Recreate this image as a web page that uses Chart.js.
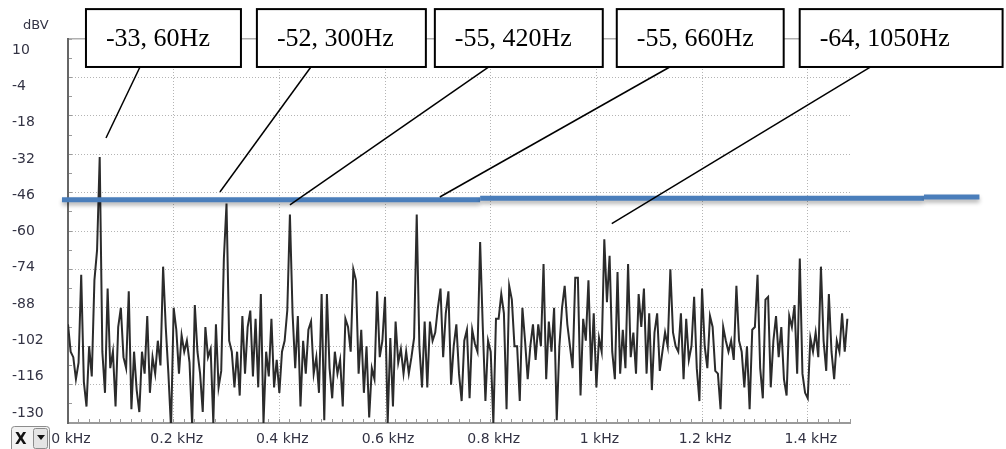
<!DOCTYPE html>
<html>
<head>
<meta charset="utf-8">
<script src="https://cdn.jsdelivr.net/npm/chart.js@4.4.1/dist/chart.umd.min.js"></script>
<style>
  html, body { margin: 0; padding: 0; background: #fff; }
  #wrap { width: 1006px; height: 449px; }
</style>
</head>
<body>
<div id="wrap"><canvas id="spectrum" width="1006" height="449"></canvas></div>
<script>
// FFT bins, 5 Hz apart (x axis is in kHz)
const freqStepKHz = 0.005;
const spectrumDbv = [
  -94, -104, -106, -114, -108, -76, -115, -124, -102, -113,
  -78, -67, -33, -104, -119, -81, -110, -104, -124, -95,
  -88, -106, -110, -82, -125, -104, -118, -126, -104, -112,
  -91, -119, -106, -112, -100, -109, -73, -95, -112, -132,
  -88, -96, -112, -98, -104, -100, -108, -131, -87, -104,
  -112, -126, -95, -106, -103, -130, -94, -117, -111, -70,
  -50, -100, -104, -117, -104, -120, -91, -112, -95, -89,
  -113, -92, -117, -83, -130, -104, -113, -92, -117, -107,
  -119, -104, -100, -89, -54, -90, -110, -91, -124, -100,
  -112, -96, -93, -112, -106, -119, -83, -129, -83,
  -110, -121, -104, -112, -107, -124, -92, -95, -104, -74,
  -78, -112, -96, -119, -102, -128, -110, -114, -82, -106,
  -100, -84, -130, -99, -124, -93, -108, -103, -112, -104,
  -112, -106, -99, -54, -102, -117, -93, -117, -93, -100,
  -97, -88, -81, -106, -90, -82, -116, -102, -94,
  -112, -122, -100, -96, -121, -96, -101, -104, -64, -95,
  -122, -100, -104, -130, -92, -92, -83, -90, -125, -80,
  -85, -102, -102, -122, -88, -100, -114, -102, -94, -107,
  -94, -102, -72, -114, -93, -104, -88, -129, -102, -88,
  -80, -94, -102, -110, -77, -77, -120, -92, -100,
  -78, -111, -90, -117, -99, -104, -63, -86, -69, -104,
  -114, -75, -112, -96, -110, -72, -106, -97, -112, -83,
  -95, -81, -112, -90, -118, -97, -90, -111, -104, -97,
  -102, -74, -97, -102, -104, -90, -114, -92, -107, -102,
  -84, -110, -122, -81, -102, -110, -91, -95, -111,
  -112, -125, -95, -100, -104, -100, -107, -80, -100, -104,
  -117, -102, -125, -96, -95, -76, -110, -121, -85, -84,
  -117, -100, -91, -106, -95, -114, -120, -91, -95, -87,
  -112, -70, -112, -119, -121, -99, -104, -97, -106, -73,
  -100, -111, -83, -104, -114, -100, -104, -90, -104, -92
];

const yTickValues = [10, -4, -18, -32, -46, -60, -74, -88, -102, -116, -130];
const xTickLabels = ['0 kHz', '0.2 kHz', '0.4 kHz', '0.6 kHz', '0.8 kHz', '1 kHz', '1.2 kHz', '1.4 kHz'];

// callout boxes (kHz / dBV)
const calloutText = ['-33, 60Hz', '-52, 300Hz', '-55, 420Hz', '-55, 660Hz', '-64, 1050Hz'];
const calloutLeft = [0.034, 0.3575, 0.6943, 1.0386, 1.3848];
const calloutRight = [0.3273, 0.6773, 1.0121, 1.3545, 1.7688];
const calloutTop = 20.9;
const calloutBottom = -0.2;
const leaderStartX = [0.1362, 0.4597, 0.7964, 1.1389, 1.5191];
const leaderEndX = [0.0719, 0.2875, 0.42, 0.7037, 1.0291];
const leaderEndY = [-26.1, -45.8, -50.5, -47.6, -57.3];

// hand drawn blue level line: [from kHz, to kHz, dBV]
const levelLine = [[-0.0114, 0.78, -48.6], [0.78, 1.62, -48.1], [1.62, 1.725, -47.6]];

const isMultiple = (v, step) => Math.abs(v / step - Math.round(v / step)) < 1e-6;

const overlay = {
  id: 'overlay',
  afterDraw(chart) {
    const { ctx } = chart;
    const x = chart.scales.x, y = chart.scales.y;

    // blue line
    ctx.save();
    ctx.strokeStyle = '#4a7ebb';
    ctx.lineWidth = 5;
    ctx.shadowColor = 'rgba(0,0,0,0.3)';
    ctx.shadowBlur = 4;
    ctx.shadowOffsetY = 3;
    levelLine.forEach(s => {
      ctx.beginPath();
      ctx.moveTo(x.getPixelForValue(s[0]), y.getPixelForValue(s[2]));
      ctx.lineTo(x.getPixelForValue(s[1]), y.getPixelForValue(s[2]));
      ctx.stroke();
    });
    ctx.restore();

    // leaders
    ctx.save();
    ctx.strokeStyle = '#000';
    ctx.lineWidth = 1.5;
    leaderStartX.forEach((sx, i) => {
      ctx.beginPath();
      ctx.moveTo(x.getPixelForValue(sx), y.getPixelForValue(calloutBottom));
      ctx.lineTo(x.getPixelForValue(leaderEndX[i]), y.getPixelForValue(leaderEndY[i]));
      ctx.stroke();
    });

    // boxes
    const top = y.getPixelForValue(calloutTop), bot = y.getPixelForValue(calloutBottom);
    ctx.font = '26px "Liberation Serif", "Times New Roman", serif';
    ctx.textBaseline = 'middle';
    ctx.textAlign = 'left';
    ctx.lineWidth = 2;
    calloutText.forEach((t, i) => {
      const l = x.getPixelForValue(calloutLeft[i]), r = x.getPixelForValue(calloutRight[i]);
      ctx.fillStyle = '#fff';
      ctx.fillRect(l, top, r - l, bot - top);
      ctx.strokeRect(l, top, r - l, bot - top);
      ctx.fillStyle = '#000';
      ctx.fillText(t, l + 20, (top + bot) / 2 + 1);
    });
    ctx.restore();

    // unit label and the little X selector
    ctx.save();
    ctx.fillStyle = '#333344';
    ctx.font = '13px "DejaVu Sans"';
    ctx.textBaseline = 'middle';
    ctx.fillText('dBV', 23, 26);
    ctx.strokeStyle = '#8c8c8c';
    ctx.lineWidth = 1;
    ctx.fillStyle = '#f2f2f2';
    ctx.beginPath();
    ctx.roundRect(11.5, 426.5, 38, 26, 3);
    ctx.fill();
    ctx.stroke();
    ctx.beginPath();
    ctx.roundRect(33.5, 428.5, 14, 20, 2);
    ctx.fillStyle = '#e4e4e4';
    ctx.fill();
    ctx.stroke();
    ctx.fillStyle = '#111';
    ctx.font = 'bold 15px "DejaVu Sans"';
    ctx.fillText('X', 15, 440);
    ctx.beginPath();
    ctx.moveTo(37, 435);
    ctx.lineTo(45, 435);
    ctx.lineTo(41, 440);
    ctx.closePath();
    ctx.fill();
    ctx.restore();
  }
};

Chart.defaults.font.family = '"DejaVu Sans", sans-serif';

new Chart(document.getElementById('spectrum'), {
  type: 'line',
  data: {
    datasets: [{
      data: spectrumDbv.map((v, i) => ({ x: i * freqStepKHz, y: v })),
      borderColor: '#2b2b2b',
      borderWidth: 2,
      pointRadius: 0,
      tension: 0
    }]
  },
  options: {
    responsive: false,
    devicePixelRatio: 1,
    animation: false,
    layout: { padding: { left: 12, top: 39, right: 156, bottom: 0 } },
    plugins: { legend: { display: false }, tooltip: { enabled: false } },
    scales: {
      x: {
        type: 'linear',
        position: 'bottom',
        min: 0,
        max: 1.48,
        afterFit: s => { s.height = 26; },
        ticks: {
          stepSize: 0.02,
          maxTicksLimit: 1000,
          autoSkip: false,
          maxRotation: 0,
          padding: 12,
          labelOffset: 3,
          color: '#333344',
          font: { size: 14 },
          callback: v => isMultiple(v, 0.2) ? xTickLabels[Math.round(v / 0.2)] : ''
        },
        grid: {
          color: c => (isMultiple(c.tick.value, 0.2) && c.tick.value > 0.01) ? '#b4b4b4' : 'rgba(0,0,0,0)',
          tickColor: '#9a9a9a',
          tickLength: -4
        },
        border: { color: '#9a9a9a', width: 2, dash: [1, 2] }
      },
      top: {
        type: 'linear',
        position: 'top',
        min: 0,
        max: 1.48,
        afterFit: s => { s.height = 0; },
        ticks: { display: false },
        grid: { display: false },
        border: { color: '#b0b0b0', width: 1.5 }
      },
      y: {
        type: 'linear',
        position: 'left',
        min: -130,
        max: 10,
        weight: 0,
        afterFit: s => { s.width = 0; },
        ticks: { display: false, stepSize: 7 },
        grid: {
          color: c => (isMultiple(c.tick.value + 130, 14) && c.tick.value > -129 && c.tick.value < 9) ? '#b4b4b4' : 'rgba(0,0,0,0)',
          tickColor: '#9a9a9a',
          tickLength: -4
        },
        border: { color: '#666666', width: 2, dash: [1, 2] }
      },
      yLabels: {
        type: 'linear',
        position: 'left',
        weight: 10,
        min: -133.85,
        max: 14.24,
        afterFit: s => { s.width = 56; },
        afterBuildTicks: s => { s.ticks = yTickValues.map(v => ({ value: v })); },
        ticks: {
          crossAlign: 'far',
          color: '#333344',
          font: { size: 14 },
          callback: v => String(v)
        },
        grid: { display: false },
        border: { display: false }
      }
    }
  },
  plugins: [overlay]
});
</script>
</body>
</html>
